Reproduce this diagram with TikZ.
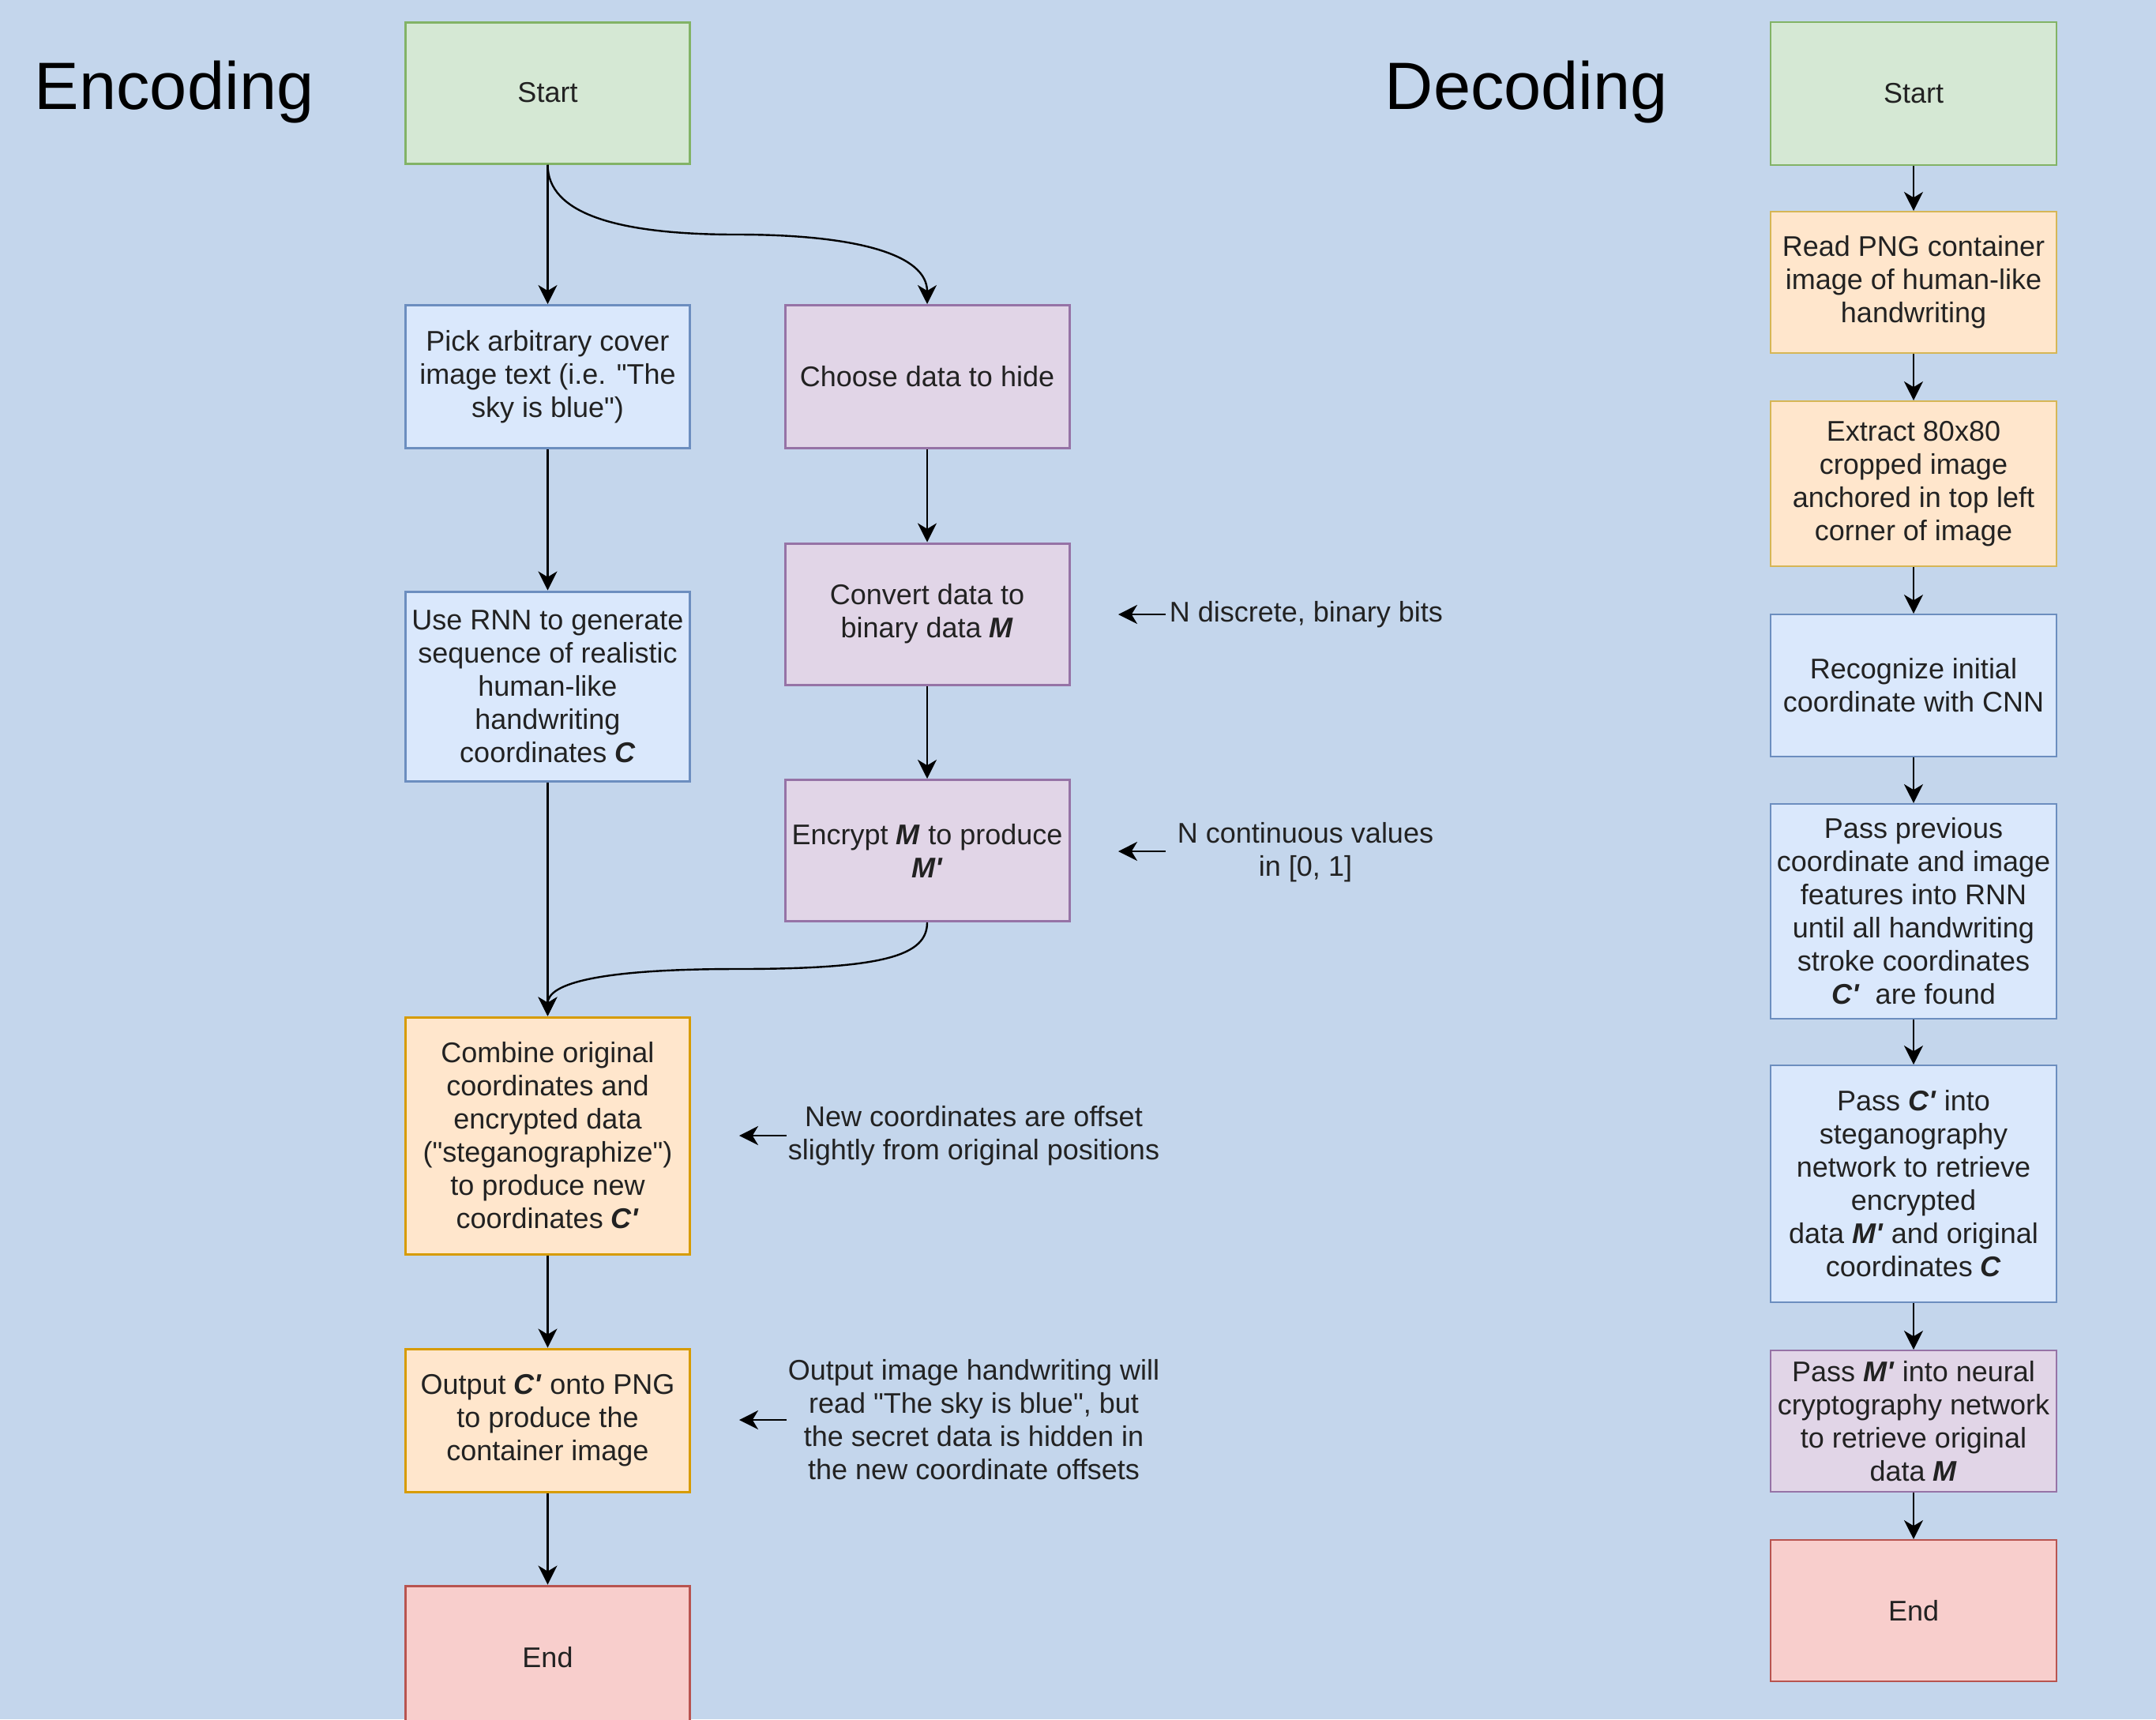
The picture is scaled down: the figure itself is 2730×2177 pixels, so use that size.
\documentclass[tikz,border=0pt]{standalone}
\usepackage{fontspec}
\setmainfont{Liberation Sans}[Ligatures=TeXOff]
\usetikzlibrary{arrows.meta}
\definecolor{bg}{HTML}{C4D6EC}
\definecolor{txt}{HTML}{222222}
\definecolor{gfill}{HTML}{D5E8D4}\definecolor{gline}{HTML}{82B366}
\definecolor{bfill}{HTML}{DAE8FC}\definecolor{bline}{HTML}{6C8EBF}
\definecolor{pfill}{HTML}{E1D5E7}\definecolor{pline}{HTML}{9673A6}
\definecolor{ofill}{HTML}{FFE6CC}\definecolor{oline}{HTML}{D79B00}
\definecolor{yline}{HTML}{D6B656}
\definecolor{rfill}{HTML}{F8CECC}\definecolor{rline}{HTML}{B85450}
\newcommand{\bi}[1]{\textbf{\textit{#1}}}
\newcommand{\dq}{\char"22\relax}
\newcommand{\pr}{\char"27\relax}
\begin{document}
\begin{tikzpicture}[x=0.25pt,y=-0.25pt,
  box/.style={draw, line width=0.75pt, minimum width=90pt, inner sep=0pt, align=center,
    font=\fontsize{9}{10.5}\selectfont, text=txt},
  dbox/.style={box, line width=0.5pt, minimum width=90.5pt},
  green/.style={fill=gfill, draw=gline},
  blue/.style={fill=bfill, draw=bline},
  purple/.style={fill=pfill, draw=pline},
  orange/.style={fill=ofill, draw=oline},
  yellow/.style={fill=ofill, draw=yline},
  red/.style={fill=rfill, draw=rline},
  conn/.style={draw, line width=0.6pt, -{Stealth[length=6pt,width=6pt,inset=1.8pt]}},
  note/.style={align=center, inner sep=0pt, font=\fontsize{9}{10.5}\selectfont, text=txt},
  title/.style={anchor=base west, inner sep=0pt, font=\fontsize{21.2}{25}\selectfont, text=black}
]
\useasboundingbox (0,0) rectangle (2730,2177);
\fill[bg] (0,0) rectangle (2730,2177);
\clip (0,0) rectangle (2730,2177);

% titles
\node[title] (enctitle) at (43,138) {Encoding};
\node[title] (dectitle) at (1753,138) {Decoding};

% encoding boxes
\node[box,green,minimum height=44.75pt] (start) at (693.5,117.5) {Start};
\node[box,blue,minimum height=45.25pt] (pick) at (693.5,477) {Pick arbitrary cover\\image text (i.e. \dq The\\sky is blue\dq)};
\node[box,purple,minimum height=45.25pt] (choose) at (1174,477) {Choose data to hide};
\node[box,purple,minimum height=44.75pt] (convert) at (1174,777.5) {Convert data to\\binary data \bi{M}};
\node[box,blue,minimum height=60pt] (rnn) at (693.5,869) {Use RNN to generate\\sequence of realistic\\human-like\\handwriting\\coordinates \bi{C}};
\node[box,purple,minimum height=44.75pt] (encrypt) at (1174,1077) {Encrypt \bi{M} to produce\\\bi{M\pr}};
\node[box,orange,minimum height=75pt] (combine) at (693.5,1438) {Combine original\\coordinates and\\encrypted data\\(\dq steganographize\dq)\\to produce new\\coordinates \bi{C\pr}};
\node[box,orange,minimum height=45.25pt] (output) at (693.5,1798.5) {Output \bi{C\pr} onto PNG\\to produce the\\container image};
\node[box,red,minimum height=45.25pt] (end) at (693.5,2098.5) {End};

% encoding connectors
\draw[conn] (start) -- (pick);
\draw[conn] (start.south) .. controls (693.5,270) and (780,297) .. (933,297)
  .. controls (1087,297) and (1174,323) .. (choose.north);
\draw[conn] (pick) -- (rnn);
\draw[conn] (choose) -- (convert);
\draw[conn] (convert) -- (encrypt);
\draw[conn] (rnn) -- (combine);
\draw[conn] (encrypt.south) .. controls (1174,1210) and (1120,1227) .. (933,1227)
  .. controls (760,1227) and (693.5,1245) .. (combine.north);
\draw[conn] (combine) -- (output);
\draw[conn] (output) -- (end);

% annotations
\node[note,anchor=west] (n1) at (1480,778) {N discrete, binary bits};
\node[note] (n2) at (1653,1079) {N continuous values\\in [0, 1]};
\node[note] (n3) at (1233,1438) {New coordinates are offset\\slightly from original positions};
\node[note] (n4) at (1233,1798) {Output image handwriting will\\read \dq The sky is blue\dq, but\\the secret data is hidden in\\the new coordinate offsets};
\coordinate (a1s) at (1476,778);  \coordinate (a1e) at (1416,778);
\coordinate (a2s) at (1476,1078); \coordinate (a2e) at (1416,1078);
\coordinate (a3s) at (996,1438);  \coordinate (a3e) at (936,1438);
\coordinate (a4s) at (996,1798);  \coordinate (a4e) at (936,1798);
\draw[conn] (a1s) -- (a1e);
\draw[conn] (a2s) -- (a2e);
\draw[conn] (a3s) -- (a3e);
\draw[conn] (a4s) -- (a4e);

% decoding boxes
\node[dbox,green,minimum height=45.25pt] (dstart) at (2423,118.5) {Start};
\node[dbox,yellow,minimum height=44.75pt] (dread) at (2423,357.5) {Read PNG container\\image of human-like\\handwriting};
\node[dbox,yellow,minimum height=52.25pt] (dextract) at (2423,612.5) {Extract 80x80\\cropped image\\anchored in top left\\corner of image};
\node[dbox,blue,minimum height=45pt] (drecog) at (2423,868) {Recognize initial\\coordinate with CNN};
\node[dbox,blue,minimum height=68pt] (dprev) at (2423,1154) {Pass previous\\coordinate and image\\features into RNN\\until all handwriting\\stroke coordinates\\\bi{C\pr}\ \ are found};
\node[dbox,blue,minimum height=75pt] (dsteg) at (2423,1499) {Pass \bi{C\pr} into\\steganography\\network to retrieve\\encrypted\\data \bi{M\pr} and original\\coordinates \bi{C}};
\node[dbox,purple,minimum height=44.75pt] (dcrypt) at (2423,1799.5) {Pass \bi{M\pr} into neural\\cryptography network\\to retrieve original\\data \bi{M}};
\node[dbox,red,minimum height=44.75pt] (dend) at (2423,2039.5) {End};

% decoding connectors
\draw[conn] (dstart) -- (dread);
\draw[conn] (dread) -- (dextract);
\draw[conn] (dextract) -- (drecog);
\draw[conn] (drecog) -- (dprev);
\draw[conn] (dprev) -- (dsteg);
\draw[conn] (dsteg) -- (dcrypt);
\draw[conn] (dcrypt) -- (dend);
\end{tikzpicture}
\end{document}
